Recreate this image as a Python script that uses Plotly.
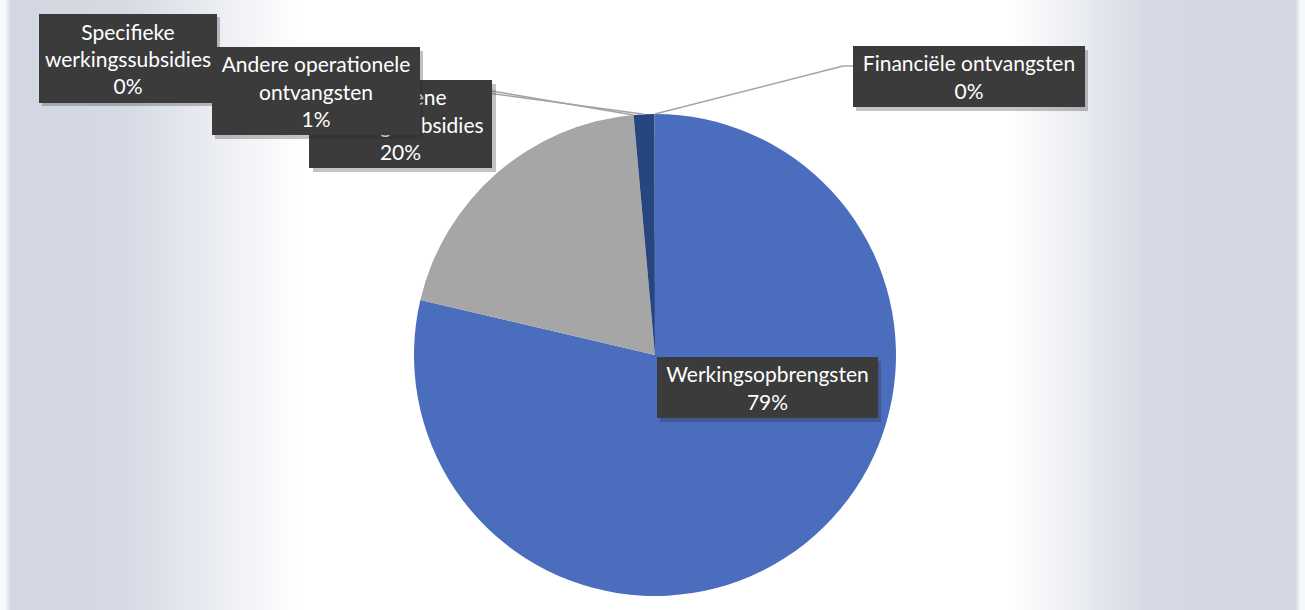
import numpy as np
import plotly.graph_objects as go

# ---- data ---------------------------------------------------------------
categories = [
    "Werkingsopbrengsten",
    "Algemene werkingssubsidies",
    "Specifieke werkingssubsidies",
    "Andere operationele ontvangsten",
    "Financiële ontvangsten",
]
values = [78.7, 19.9, 0.02, 1.4, 0.02]
label_names = [
    "Werkingsopbrengsten",
    "Algemene<br>werkingssubsidies",
    "Specifieke<br>werkingssubsidies",
    "Andere operationele<br>ontvangsten",
    "Financiële ontvangsten",
]
slice_colors = ["#4A6DBD", "#A6A6A6", "#7F7F7F", "#27457E", "#5B9BD5"]

# ---- canvas geometry (pixels) -------------------------------------------
W, H = 1305, 610
CX, CY, R = 655, 355, 241


def px(x):
    return x / W


def py(y):
    return 1 - y / H


total = sum(values)
shares = [v / total for v in values]
starts = np.concatenate([[0.0], np.cumsum(shares)[:-1]])
mid_angle = {c: 2 * np.pi * (s + f / 2) for c, s, f in zip(categories, starts, shares)}


def rim_point(cat):
    a = mid_angle[cat]
    return CX + R * np.sin(a), CY - R * np.cos(a)


fig = go.Figure()

# soft grey haze at both sides of the page
hx = np.arange(0, W + 5, 5)
haze = np.interp(hx, [0, 6, 7, 120, 300, 1010, 1150, 1298, 1299, 1305],
                 [0.15, 0.15, 1, 0.95, 0, 0, 0.95, 1, 0.2, 0.2])
fig.add_trace(go.Heatmap(
    x=hx, y=[0, H], z=[haze, haze], zmin=0, zmax=1,
    colorscale=[[0, "#FFFFFF"], [1, "#D2D7E2"]],
    showscale=False, hoverinfo="skip", zsmooth="best",
))

fig.add_trace(go.Pie(
    labels=categories, values=values, sort=False, direction="clockwise",
    rotation=0, marker=dict(colors=slice_colors, line=dict(width=0)),
    textinfo="none", showlegend=False, hoverinfo="label+percent",
    domain=dict(x=[px(CX - R), px(CX + R)], y=[py(CY + R), py(CY - R)]),
))

# ---- leader lines ---------------------------------------------------------
leader_ends = {
    "Specifieke werkingssubsidies": [(480, 89)],
    "Andere operationele ontvangsten": [(480, 92)],
    "Financiële ontvangsten": [(843, 66), (855, 66)],
}
shapes = []
for cat, pts in leader_ends.items():
    x0, y0 = rim_point(cat)
    for (x1, y1) in pts:
        shapes.append(dict(type="line", xref="paper", yref="paper",
                           x0=px(x0), y0=py(y0), x1=px(x1), y1=py(y1),
                           line=dict(color="#A3A3A3", width=1.4), layer="above"))
        x0, y0 = x1, y1

# ---- data label boxes (centre x, centre y, width, height) ------------------
boxes = {
    "Specifieke werkingssubsidies": (128, 58, 178, 89),
    "Algemene werkingssubsidies": (401, 124, 183, 88),
    "Andere operationele ontvangsten": (316, 91, 208, 88),
    "Financiële ontvangsten": (969, 76, 232, 61),
    "Werkingsopbrengsten": (767, 387, 221, 61),
}
annotations = []
for cat in boxes:
    i = categories.index(cat)
    bx, by, bw, bh = boxes[cat]
    text = f"{label_names[i]}<br>{round(shares[i] * 100)}%"
    common = dict(xref="paper", yref="paper", xanchor="center", yanchor="middle",
                  showarrow=False, width=bw, height=bh, borderpad=0, borderwidth=0)
    annotations.append(dict(x=px(bx + 3), y=py(by + 4), text=" ",
                            bgcolor="rgba(40,40,40,0.28)", **common))
    annotations.append(dict(x=px(bx), y=py(by), text=text, bgcolor="#3B3B3B",
                            font=dict(family="Lato", size=21, color="#FFFFFF"),
                            align="center", **common))

fig.update_layout(
    width=W, height=H, margin=dict(l=0, r=0, t=0, b=0),
    paper_bgcolor="#FFFFFF", plot_bgcolor="#FFFFFF",
    xaxis=dict(visible=False, range=[0, W], domain=[0, 1], fixedrange=True),
    yaxis=dict(visible=False, range=[H, 0], domain=[0, 1], fixedrange=True),
    shapes=shapes, annotations=annotations,
)

fig.write_html("out.html")
